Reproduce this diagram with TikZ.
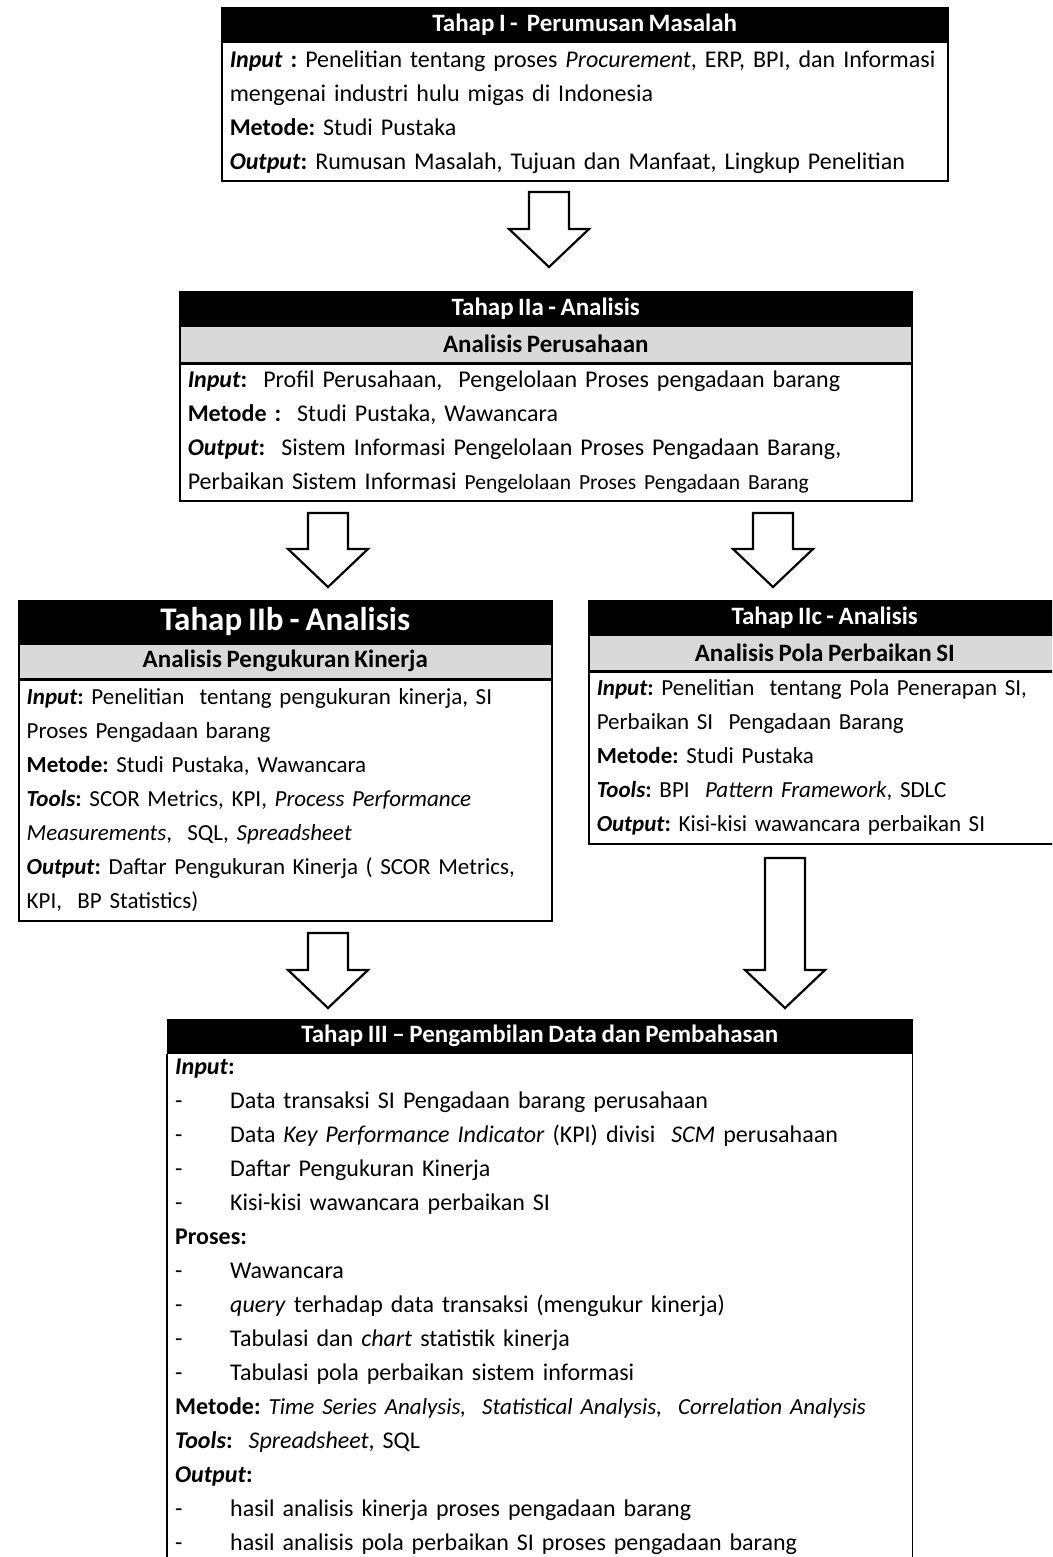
\documentclass[tikz,border=0pt]{standalone}
\usepackage{fontspec}
\setmainfont{Carlito}[WordSpace=0.8]
\usetikzlibrary{positioning,calc}
\frenchspacing

\tikzset{
  hdr/.style={draw=black, line width=1.5pt, fill=black, text=white, font=\bfseries\fontsize{25}{28}\selectfont, inner sep=0pt, align=center},
  subhdr/.style={draw=black, line width=1.5pt, fill=black!15, font=\bfseries\fontsize{25}{28}\selectfont, inner sep=0pt, align=center},
  bodybox/.style={draw=black, line width=1.5pt, inner xsep=8pt, inner ysep=0pt, align=left},
  smallbody/.style={font=\fontsize{23}{34}\selectfont},
  blockarrow/.style={draw=black, line width=2.2pt, fill=white, line join=miter},
}
\newcommand{\itm}{\makebox[55pt][l]{-}}
\newcommand{\hollowarrow}[2]{%
  \draw[blockarrow] let \p1=(#1), \p2=(#2) in
    (\x1-20,\y1) -- (\x1+20,\y1) -- (\x1+20,\y2+38) -- (\x1+40,\y2+38)
    -- (\x2,\y2) -- (\x1-40,\y2+38) -- (\x1-20,\y2+38) -- cycle;}

\begin{document}
\begin{tikzpicture}[x=1pt,y=-1pt,font=\fontsize{24}{34}\selectfont]
\useasboundingbox (0,0) rectangle (1052,1557);
\clip (0,0) rectangle (1052,1557);

% Tahap I
\node[hdr, anchor=north west, minimum width=726, minimum height=33] (h1) at (221,7) {Tahap I -\ \ Perumusan Masalah};
\node[bodybox, below=0pt of h1, text width=710, minimum height=139] (b1) {%
\textbf{\textit{Input} :} Penelitian tentang proses \textit{Procurement}, ERP, BPI, dan Informasi\\
mengenai industri hulu migas di Indonesia\\
\textbf{Metode:} Studi Pustaka\\
\textbf{\textit{Output}:} Rumusan Masalah, Tujuan dan Manfaat, Lingkup Penelitian};

% Tahap IIa
\node[hdr, anchor=north west, minimum width=732, minimum height=33] (h2a) at (179,291) {Tahap IIa - Analisis};
\node[subhdr, below=0pt of h2a, minimum width=732, minimum height=36] (s2a) {Analisis Perusahaan};
\node[bodybox, below=0pt of s2a, text width=716, minimum height=137] (b2a) {%
\textbf{\textit{Input}:}\ \ Profil Perusahaan,\ \ Pengelolaan Proses pengadaan barang\\
\textbf{Metode :}\ \ Studi Pustaka, Wawancara\\
\textbf{\textit{Output}:}\ \ Sistem Informasi Pengelolaan Proses Pengadaan Barang,\\
Perbaikan Sistem Informasi {\fontsize{21.5}{34}\selectfont Pengelolaan Proses Pengadaan Barang}};

% Tahap IIb
\node[hdr, anchor=north west, minimum width=533, minimum height=42, font=\bfseries\fontsize{33}{34}\selectfont] (h2b) at (18,600) {Tahap IIb - Analisis};
\node[subhdr, below=0pt of h2b, minimum width=533, minimum height=34] (s2b) {Analisis Pengukuran Kinerja};
\node[bodybox, smallbody, below=0pt of s2b, text width=517, minimum height=241] (b2b) {%
\textbf{\textit{Input}:} Penelitian\ \ tentang pengukuran kinerja, SI\\
Proses Pengadaan barang\\
\textbf{Metode:} Studi Pustaka, Wawancara\\
\textbf{\textit{Tools}:} SCOR Metrics, KPI, \textit{Process Performance}\\
\textit{Measurements},\ \ SQL, \textit{Spreadsheet}\\
\textbf{\textit{Output}:} Daftar Pengukuran Kinerja ( SCOR Metrics,\\
KPI,\ \ BP Statistics)};

% Tahap IIc
\node[hdr, anchor=north west, minimum width=472, minimum height=33] (h2c) at (588,600) {Tahap IIc - Analisis};
\node[subhdr, below=0pt of h2c, minimum width=472, minimum height=35] (s2c) {Analisis Pola Perbaikan SI};
\node[bodybox, smallbody, below=0pt of s2c, text width=456, minimum height=172] (b2c) {%
\textbf{\textit{Input}:} Penelitian\ \ tentang Pola Penerapan SI,\\
Perbaikan SI\ \ Pengadaan Barang\\
\textbf{Metode:} Studi Pustaka\\
\textbf{\textit{Tools}:} BPI\ \ \textit{Pattern Framework}, SDLC\\
\textbf{\textit{Output}:} Kisi-kisi wawancara perbaikan SI};

% Tahap III
\node[hdr, anchor=north west, minimum width=744, minimum height=33] (h3) at (167,1019) {Tahap III -- Pengambilan Data dan Pembahasan};
\node[anchor=north west, inner xsep=8pt, inner ysep=5pt, text width=728, align=left] (b3) at (h3.south west) {%
\textbf{\textit{Input}:}\\
\itm Data transaksi SI Pengadaan barang perusahaan\\
\itm Data \textit{Key Performance Indicator} (KPI) divisi\ \ \textit{SCM} perusahaan\\
\itm Daftar Pengukuran Kinerja\\
\itm Kisi-kisi wawancara perbaikan SI\\
\textbf{Proses:}\\
\itm Wawancara\\
\itm \textit{query} terhadap data transaksi (mengukur kinerja)\\
\itm Tabulasi dan \textit{chart} statistik kinerja\\
\itm Tabulasi pola perbaikan sistem informasi\\
\textbf{Metode:} {\fontsize{23}{34}\selectfont\textit{Time Series Analysis,\ \ Statistical Analysis,\ \ Correlation Analysis}}\\
\textbf{\textit{Tools}:}\ \ \textit{Spreadsheet}, SQL\\
\textbf{\textit{Output}:}\\
\itm hasil analisis kinerja proses pengadaan barang\\
\itm hasil analisis pola perbaikan SI proses pengadaan barang};
\draw[line width=1.5pt] (h3.south west) -- ++(0,600);
\draw[line width=1.5pt] (h3.south east) -- ++(0,600);

% arrows
\coordinate (a1s) at (549,192);
\coordinate (a1e) at (549,267);
\coordinate (a2s) at (328,513);
\coordinate (a2e) at (328,587);
\coordinate (a3s) at (773,513);
\coordinate (a3e) at (773,587);
\coordinate (a4s) at (328,933);
\coordinate (a4e) at (328,1008);
\coordinate (a5s) at (785,858);
\coordinate (a5e) at (785,1008);
\hollowarrow{a1s}{a1e}
\hollowarrow{a2s}{a2e}
\hollowarrow{a3s}{a3e}
\hollowarrow{a4s}{a4e}
\hollowarrow{a5s}{a5e}
\end{tikzpicture}
\end{document}
